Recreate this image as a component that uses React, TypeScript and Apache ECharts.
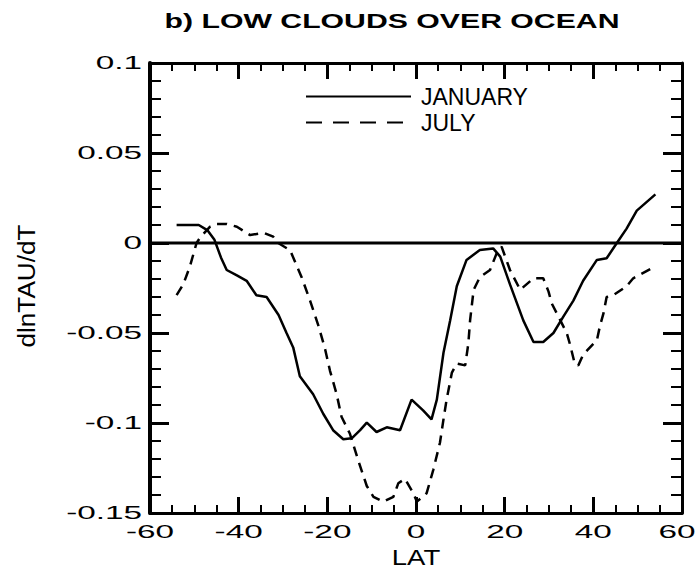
import React, { useEffect, useRef } from "react";
import * as echarts from "echarts";

const TITLE = "b) LOW CLOUDS OVER OCEAN";
const X_NAME = "LAT";
const Y_NAME = "dlnTAU/dT";
const SERIES_NAMES = ["JANUARY", "JULY"];

const xTicks = [-60, -40, -20, 0, 20, 40, 60];
const xTickLabels = ["-60", "-40", "-20", "0", "20", "40", "60"];
const yTicks = [0.1, 0.05, 0, -0.05, -0.1, -0.15];
const yTickLabels = ["0.1", "0.05", "0", "-0.05", "-0.1", "-0.15"];

const zeroLine: [number, number][] = [[-60, 0], [60, 0]];

const january: [number, number][] = [
  [-54, 0.01], [-49, 0.01], [-47, 0.007], [-45.5, 0.002], [-44, -0.008],
  [-42.7, -0.015], [-40.4, -0.018], [-38.2, -0.021], [-36, -0.029], [-33.7, -0.03],
  [-31, -0.04], [-29.2, -0.05], [-27.7, -0.058], [-26.2, -0.074], [-23.2, -0.084],
  [-20.9, -0.095], [-18.7, -0.104], [-16.4, -0.109], [-14.5, -0.1085], [-12.6, -0.104],
  [-11.1, -0.0998], [-8.9, -0.105], [-6.6, -0.1024], [-3.6, -0.104], [-1, -0.087],
  [1.6, -0.093], [3.5, -0.098], [4.7, -0.087], [6.2, -0.061], [7.7, -0.043],
  [9.2, -0.024], [11.4, -0.0094], [14.4, -0.0039], [17.4, -0.003], [19, -0.0076],
  [21.2, -0.023], [24.2, -0.043], [26.5, -0.055], [28.7, -0.055], [31, -0.05],
  [33.2, -0.041], [35.5, -0.032], [37.7, -0.021], [40.8, -0.0094], [43, -0.0085],
  [45.3, 0], [47.5, 0.008], [49.8, 0.018], [54, 0.027],
];

const july: [number, number][] = [
  [-54, -0.029], [-52.5, -0.023], [-51, -0.013], [-49.5, 0], [-48.7, 0.003],
  [-46.5, 0.009], [-45, 0.0106], [-42.7, 0.0106], [-40.4, 0.009], [-37.4, 0.0044],
  [-34.4, 0.0057], [-32.2, 0.0035], [-31.1, 0], [-28.4, -0.004], [-25.8, -0.019],
  [-23.9, -0.032], [-22, -0.046], [-20.5, -0.059], [-19.4, -0.071], [-17.9, -0.084],
  [-16.8, -0.0965], [-14.9, -0.106], [-13, -0.121], [-11.1, -0.135], [-9.6, -0.141],
  [-7.4, -0.1437], [-5.1, -0.141], [-4, -0.1335], [-2.5, -0.131], [-0.6, -0.139],
  [0.2, -0.1437], [2.4, -0.139], [3.9, -0.126], [5.4, -0.111], [6.2, -0.098],
  [6.9, -0.087], [8.1, -0.072], [9.2, -0.067], [11.1, -0.068], [11.8, -0.056],
  [12.2, -0.043], [13, -0.026], [14.4, -0.019], [16.7, -0.015], [18.2, -0.0057],
  [19.3, -0.002], [21.2, -0.015], [23.5, -0.026], [26.5, -0.0196], [28.7, -0.0196],
  [29.9, -0.027], [30.6, -0.0335], [34, -0.05], [34.7, -0.056], [35.8, -0.067],
  [36.6, -0.068], [37.7, -0.062], [40.8, -0.054], [41.5, -0.046], [42.3, -0.039],
  [43, -0.03], [44.5, -0.029], [47.5, -0.024], [49, -0.0196], [54, -0.013],
];

const FONT = "Liberation Sans, Arial, sans-serif";

export default function App() {
  const ref = useRef<HTMLDivElement>(null);

  useEffect(() => {
    if (!ref.current) return;
    const chart = echarts.init(ref.current, null, { renderer: "svg" });

    const xAxisDef = (pos: string, w: number) => ({
      type: "value",
      min: -60,
      max: 60,
      interval: 20,
      position: pos,
      axisLine: { show: true, onZero: false, lineStyle: { color: "#000", width: w } },
      axisTick: { show: true, inside: true, length: 16, lineStyle: { color: "#000", width: 3 } },
      minorTick: { show: true, splitNumber: 4, length: 8, lineStyle: { color: "#000", width: 2 } },
      axisLabel: { show: false },
      splitLine: { show: false },
    });
    const yAxisDef = (pos: string, w: number) => ({
      type: "value",
      min: -0.15,
      max: 0.1,
      interval: 0.05,
      position: pos,
      axisLine: { show: true, onZero: false, lineStyle: { color: "#000", width: w } },
      axisTick: { show: true, inside: true, length: 19, lineStyle: { color: "#000", width: 3 } },
      minorTick: { show: true, splitNumber: 5, length: 11, lineStyle: { color: "#000", width: 2 } },
      axisLabel: { show: false },
      splitLine: { show: false },
    });

    const option: any = {
      animation: false,
      grid: { left: 150, top: 63, width: 532, height: 450 },
      xAxis: [xAxisDef("bottom", 3), xAxisDef("top", 3)],
      yAxis: [yAxisDef("left", 4), yAxisDef("right", 3)],
      legend: {
        orient: "vertical",
        left: 305,
        top: 85,
        itemWidth: 105,
        itemHeight: 14,
        itemGap: 3,
        padding: 0,
        selectedMode: false,
        itemStyle: { opacity: 0 },
        textStyle: { fontSize: 23, fontFamily: FONT, color: "#000", padding: [0, 0, 0, 5] },
        data: [
          { name: SERIES_NAMES[0], lineStyle: { width: 2 } },
          { name: SERIES_NAMES[1], lineStyle: { width: 2, type: [16, 11] } },
        ],
      },
      series: [
        {
          name: "zero",
          type: "line",
          data: zeroLine,
          symbol: "none",
          showSymbol: false,
          silent: true,
          lineStyle: { color: "#000", width: 3, type: "solid" },
          itemStyle: { color: "#000" },
        },
        {
          name: SERIES_NAMES[0],
          type: "line",
          data: january,
          symbol: "none",
          showSymbol: false,
          lineStyle: { color: "#000", width: 2.5, type: "solid" },
          itemStyle: { color: "#000" },
        },
        {
          name: SERIES_NAMES[1],
          type: "line",
          data: july,
          symbol: "none",
          showSymbol: false,
          lineStyle: { color: "#000", width: 2.5, type: [10, 7] },
          itemStyle: { color: "#000" },
        },
      ],
    };

    chart.setOption(option);

    const textStyle = (text: string, size: number, align: string, weight = "normal") => ({
      text,
      fontSize: size,
      fontFamily: FONT,
      fontWeight: weight,
      fill: "#000",
      align,
      textAlign: align,
      verticalAlign: "middle",
      textVerticalAlign: "middle",
    });

    const graphic: any[] = [];
    xTicks.forEach((v, i) => {
      let px = chart.convertToPixel({ xAxisIndex: 0 }, v) as number;
      if (i === xTicks.length - 1) px -= 5;
      graphic.push({
        type: "text",
        x: px,
        y: 532,
        scaleX: 1.85,
        silent: true,
        style: textStyle(xTickLabels[i], 18, "center"),
      });
    });
    yTicks.forEach((v, i) => {
      const py = chart.convertToPixel({ yAxisIndex: 0 }, v) as number;
      graphic.push({
        type: "text",
        x: 142,
        y: py,
        scaleX: 1.85,
        silent: true,
        style: textStyle(yTickLabels[i], 18, "right"),
      });
    });
    graphic.push({
      type: "text",
      x: 392,
      y: 21,
      scaleX: 1.44,
      silent: true,
      style: textStyle(TITLE, 21, "center", "bold"),
    });
    graphic.push({
      type: "text",
      x: 416,
      y: 557,
      scaleX: 1.25,
      silent: true,
      style: textStyle(X_NAME, 22, "center"),
    });
    graphic.push({
      type: "text",
      x: 26,
      y: 286,
      rotation: Math.PI / 2,
      scaleX: 1.19,
      scaleY: 1.08,
      silent: true,
      style: textStyle(Y_NAME, 22, "center"),
    });

    chart.setOption({ graphic });

    return () => chart.dispose();
  }, []);

  return (
    <div
      ref={ref}
      style={{ position: "absolute", left: 0, top: 0, width: 699, height: 571 }}
    />
  );
}
